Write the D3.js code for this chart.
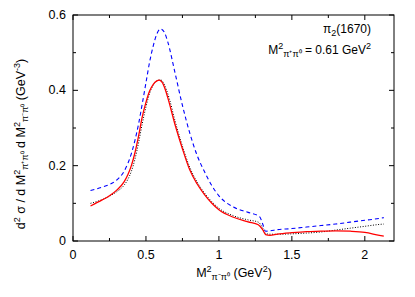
<!DOCTYPE html>
<html><head><meta charset="utf-8">
<script src="https://cdn.jsdelivr.net/npm/d3@7"></script>
<style>body{margin:0;background:#fff}svg{display:block}text{font-family:"Liberation Sans",Arial,sans-serif;fill:#000}</style>
</head><body><svg id="c" width="415" height="297"></svg>
<script>
const xMajor=[0,0.5,1,1.5,2];
const xMinor=[0.25,0.75,1.25,1.75];
const yMajor=[0,0.2,0.4,0.6];
const yMinor=[0.1,0.3,0.5];
const xTickLabels=["0","0.5","1","1.5","2"];
const yTickLabels=["0","0.2","0.4","0.6"];

const redX=[0.12,0.2,0.25,0.3,0.35,0.375,0.4,0.425,0.45,0.475,0.5,0.525,0.55,0.575,0.59,0.61,0.63,0.65,0.7,0.75,0.8,0.85,0.9,0.95,1.0,1.1,1.2,1.27,1.3,1.32,1.35,1.4,1.5,1.6,1.7,1.8,1.9,2.0,2.1,2.13];
const redY=[0.093,0.109,0.120,0.135,0.157,0.175,0.200,0.235,0.280,0.330,0.368,0.398,0.416,0.425,0.427,0.422,0.405,0.380,0.308,0.245,0.189,0.152,0.124,0.101,0.083,0.063,0.051,0.043,0.030,0.017,0.015,0.018,0.022,0.025,0.026,0.027,0.026,0.023,0.015,0.013];

const blackX=[0.12,0.2,0.25,0.3,0.35,0.375,0.4,0.425,0.45,0.475,0.5,0.525,0.55,0.575,0.6,0.62,0.64,0.66,0.7,0.75,0.8,0.85,0.9,0.95,1.0,1.1,1.2,1.27,1.3,1.32,1.35,1.4,1.5,1.6,1.7,1.8,1.9,2.0,2.1,2.13];
const blackY=[0.100,0.110,0.119,0.131,0.148,0.163,0.185,0.218,0.262,0.312,0.356,0.392,0.414,0.425,0.428,0.420,0.402,0.378,0.318,0.252,0.196,0.157,0.128,0.105,0.087,0.067,0.056,0.050,0.035,0.020,0.018,0.018,0.019,0.021,0.024,0.029,0.034,0.039,0.044,0.045];

const blueX=[0.12,0.2,0.25,0.3,0.35,0.375,0.4,0.425,0.45,0.475,0.5,0.525,0.55,0.575,0.6,0.625,0.65,0.7,0.75,0.8,0.85,0.9,0.95,1.0,1.1,1.2,1.28,1.3,1.32,1.35,1.4,1.5,1.6,1.7,1.8,1.9,2.0,2.1,2.13];
const blueY=[0.134,0.143,0.150,0.162,0.185,0.205,0.232,0.268,0.312,0.365,0.420,0.475,0.518,0.550,0.563,0.555,0.528,0.445,0.360,0.287,0.228,0.185,0.148,0.120,0.090,0.076,0.064,0.045,0.026,0.027,0.030,0.033,0.037,0.041,0.045,0.050,0.055,0.060,0.062];

const svg=d3.select("#c");
const L=73,T=15,R=394,B=241;
const x=d3.scaleLinear().domain([0,2.2]).range([L,R]);
const y=d3.scaleLinear().domain([0,0.6]).range([B,T]);

const g=svg.append("g");
const tk=(x1,y1,x2,y2)=>g.append("line").attr("x1",x1).attr("y1",y1).attr("x2",x2).attr("y2",y2).attr("stroke","#000").attr("stroke-width",1);
xMajor.forEach(v=>{tk(x(v),B,x(v),B-5);tk(x(v),T,x(v),T+5);});
xMinor.forEach(v=>{tk(x(v),B,x(v),B-3);tk(x(v),T,x(v),T+3);});
yMajor.forEach(v=>{tk(L,y(v),L+5,y(v));tk(R,y(v),R-5,y(v));});
yMinor.forEach(v=>{tk(L,y(v),L+3,y(v));tk(R,y(v),R-3,y(v));});

xMajor.forEach((v,i)=>svg.append("text").attr("x",x(v)).attr("y",B+18).attr("text-anchor","middle").attr("font-size",12.5).text(xTickLabels[i]));
yMajor.forEach((v,i)=>svg.append("text").attr("x",L-7).attr("y",y(v)+4).attr("text-anchor","end").attr("font-size",12.5).text(yTickLabels[i]));

const line=d3.line().x(d=>x(d[0])).y(d=>y(d[1])).curve(d3.curveMonotoneX);
const zip=(a,b)=>a.map((v,i)=>[v,b[i]]);
svg.append("path").attr("d",line(zip(blackX,blackY))).attr("fill","none").attr("stroke","#000").attr("stroke-width",1).attr("stroke-dasharray","1,1.6");
svg.append("path").attr("d",line(zip(redX,redY))).attr("fill","none").attr("stroke","#ff0000").attr("stroke-width",1.3);
svg.append("path").attr("d",line(zip(blueX,blueY))).attr("fill","none").attr("stroke","#0000ff").attr("stroke-width",1.1).attr("stroke-dasharray","4,3");

svg.append("rect").attr("x",L).attr("y",T).attr("width",R-L).attr("height",B-T).attr("fill","none").attr("stroke","#000").attr("stroke-width",1);

const t1=svg.append("text").attr("x",371).attr("y",33).attr("text-anchor","end").attr("font-size",12);
t1.append("tspan").text("π");
t1.append("tspan").attr("font-size",9).attr("dy",3).text("2");
t1.append("tspan").attr("dy",-3).text("(1670)");
const t2=svg.append("text").attr("x",371).attr("y",54).attr("text-anchor","end").attr("font-size",12);
t2.append("tspan").text("M");
t2.append("tspan").attr("font-size",9).attr("dy",-5).text("2");
t2.append("tspan").attr("font-size",9).attr("dy",8).text("π⁺π⁰");
t2.append("tspan").attr("dy",-3).text(" = 0.61 GeV");
t2.append("tspan").attr("font-size",9).attr("dy",-5).text("2");

const xt=svg.append("text").attr("x",234).attr("y",277).attr("text-anchor","middle").attr("font-size",12.5);
xt.append("tspan").text("M");
xt.append("tspan").attr("font-size",9).attr("dy",-5).text("2");
xt.append("tspan").attr("font-size",9).attr("dy",8).text("π⁻π⁰");
xt.append("tspan").attr("dy",-3).text(" (GeV");
xt.append("tspan").attr("font-size",9).attr("dy",-5).text("2");
xt.append("tspan").attr("dy",5).text(")");

const yt=svg.append("text").attr("transform","translate(25,144) rotate(-90)").attr("text-anchor","middle").attr("font-size",12.5);
yt.append("tspan").text("d");
yt.append("tspan").attr("font-size",9).attr("dy",-5).text("2");
yt.append("tspan").attr("dy",5).text(" σ / d M");
yt.append("tspan").attr("font-size",9).attr("dy",-5).text("2");
yt.append("tspan").attr("font-size",9).attr("dy",8).text("π⁺π⁰");
yt.append("tspan").attr("dy",-3).text(" d M");
yt.append("tspan").attr("font-size",9).attr("dy",-5).text("2");
yt.append("tspan").attr("font-size",9).attr("dy",8).text("π⁻π⁰");
yt.append("tspan").attr("dy",-3).text(" (GeV");
yt.append("tspan").attr("font-size",9).attr("dy",-5).text("-3");
yt.append("tspan").attr("dy",5).text(")");
</script></body></html>
